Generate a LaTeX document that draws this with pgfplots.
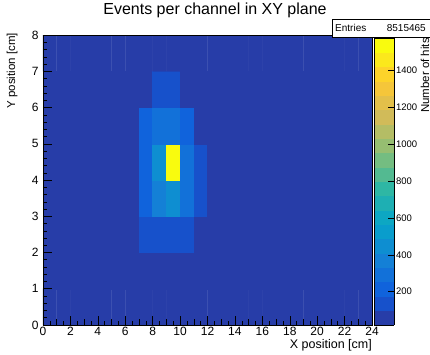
\documentclass[border=0pt]{standalone}
\usepackage{fontspec}
\setmainfont{Liberation Sans}
\usepackage{pgfplots}
\pgfplotsset{compat=1.18}
\pgfplotsset{colormap={bird20}{
rgb255(0cm)=(39,61,168) rgb255(1cm)=(23,81,203) rgb255(2cm)=(16,99,220) rgb255(3cm)=(18,113,217)
rgb255(4cm)=(20,128,214) rgb255(5cm)=(14,142,209) rgb255(6cm)=(9,157,204) rgb255(7cm)=(13,167,195)
rgb255(8cm)=(30,175,179) rgb255(9cm)=(46,183,164) rgb255(10cm)=(83,186,145) rgb255(11cm)=(116,189,129)
rgb255(12cm)=(150,190,113) rgb255(13cm)=(180,189,101) rgb255(14cm)=(209,187,89) rgb255(15cm)=(227,192,74)
rgb255(16cm)=(245,198,58) rgb255(17cm)=(253,211,42) rgb255(18cm)=(251,232,28) rgb255(19cm)=(249,251,14)
rgb255(20cm)=(249,251,14)}}
\begin{document}
\begin{tikzpicture}
\begin{axis}[
  at={(0,0)}, anchor=south west,
  scale only axis, width=329pt, height=290pt,
  xmin=0, xmax=24, ymin=0, ymax=8,
  axis on top,
  tick pos=left, tick align=inside,
  xtick={0,2,...,24}, minor x tick num=3,
  extra x ticks={1,3,...,23}, extra x tick labels={}, extra x tick style={major tick length=6pt},
  ytick={0,1,...,8}, minor y tick num=4,
  major tick length=9pt, minor tick length=4pt,
  tick style={black, line width=0.5pt},
  axis line style={line width=0.6pt},
  ticklabel style={font=\fontsize{12}{14}\selectfont},
  /pgf/number format/assume math mode=true,
  /pgf/number format/1000 sep={},
  yticklabel style={xshift=-1pt},
  xticklabel style={yshift=1.5pt},
  colormap name=bird20, colormap access=piecewise constant,
  point meta min=19, point meta max=1576,
  colorbar,
  colorbar shift/.style={xshift=2pt},
  colorbar style={
    at={(parent axis.south east)}, anchor=south west,
    scale only axis, width=20pt, height=287pt,
    ytick={200,400,...,1400},
    yticklabel pos=right, ytick pos=right,
    tick align=inside, major tick length=6pt,
    tick style={black, line width=0.5pt},
    yticklabel style={font=\fontsize{9.5}{11}\selectfont, xshift=-1.5pt},
    /pgf/number format/assume math mode=true,
    /pgf/number format/1000 sep={},
    scaled y ticks=false,
  },
]
\addplot[matrix plot*, mesh/cols=24, point meta=explicit] table[row sep=\\, meta=c] {
x y c\\
0.5 0.5 40\\ 1.5 0.5 40\\ 2.5 0.5 40\\ 3.5 0.5 40\\ 4.5 0.5 40\\ 5.5 0.5 40\\ 6.5 0.5 40\\ 7.5 0.5 40\\ 8.5 0.5 40\\ 9.5 0.5 40\\ 10.5 0.5 40\\ 11.5 0.5 40\\ 12.5 0.5 40\\ 13.5 0.5 40\\ 14.5 0.5 40\\ 15.5 0.5 40\\ 16.5 0.5 40\\ 17.5 0.5 40\\ 18.5 0.5 40\\ 19.5 0.5 40\\ 20.5 0.5 40\\ 21.5 0.5 40\\ 22.5 0.5 40\\ 23.5 0.5 40\\
0.5 1.5 40\\ 1.5 1.5 40\\ 2.5 1.5 40\\ 3.5 1.5 40\\ 4.5 1.5 40\\ 5.5 1.5 40\\ 6.5 1.5 40\\ 7.5 1.5 40\\ 8.5 1.5 40\\ 9.5 1.5 40\\ 10.5 1.5 40\\ 11.5 1.5 40\\ 12.5 1.5 40\\ 13.5 1.5 40\\ 14.5 1.5 40\\ 15.5 1.5 40\\ 16.5 1.5 40\\ 17.5 1.5 40\\ 18.5 1.5 40\\ 19.5 1.5 40\\ 20.5 1.5 40\\ 21.5 1.5 40\\ 22.5 1.5 40\\ 23.5 1.5 40\\
0.5 2.5 40\\ 1.5 2.5 40\\ 2.5 2.5 40\\ 3.5 2.5 40\\ 4.5 2.5 40\\ 5.5 2.5 40\\ 6.5 2.5 40\\ 7.5 2.5 150\\ 8.5 2.5 150\\ 9.5 2.5 150\\ 10.5 2.5 150\\ 11.5 2.5 40\\ 12.5 2.5 40\\ 13.5 2.5 40\\ 14.5 2.5 40\\ 15.5 2.5 40\\ 16.5 2.5 40\\ 17.5 2.5 40\\ 18.5 2.5 40\\ 19.5 2.5 40\\ 20.5 2.5 40\\ 21.5 2.5 40\\ 22.5 2.5 40\\ 23.5 2.5 40\\
0.5 3.5 40\\ 1.5 3.5 40\\ 2.5 3.5 40\\ 3.5 3.5 40\\ 4.5 3.5 40\\ 5.5 3.5 40\\ 6.5 3.5 40\\ 7.5 3.5 200\\ 8.5 3.5 340\\ 9.5 3.5 450\\ 10.5 3.5 290\\ 11.5 3.5 150\\ 12.5 3.5 40\\ 13.5 3.5 40\\ 14.5 3.5 40\\ 15.5 3.5 40\\ 16.5 3.5 40\\ 17.5 3.5 40\\ 18.5 3.5 40\\ 19.5 3.5 40\\ 20.5 3.5 40\\ 21.5 3.5 40\\ 22.5 3.5 40\\ 23.5 3.5 40\\
0.5 4.5 40\\ 1.5 4.5 40\\ 2.5 4.5 40\\ 3.5 4.5 40\\ 4.5 4.5 40\\ 5.5 4.5 40\\ 6.5 4.5 40\\ 7.5 4.5 200\\ 8.5 4.5 470\\ 9.5 4.5 1576\\ 10.5 4.5 300\\ 11.5 4.5 150\\ 12.5 4.5 40\\ 13.5 4.5 40\\ 14.5 4.5 40\\ 15.5 4.5 40\\ 16.5 4.5 40\\ 17.5 4.5 40\\ 18.5 4.5 40\\ 19.5 4.5 40\\ 20.5 4.5 40\\ 21.5 4.5 40\\ 22.5 4.5 40\\ 23.5 4.5 40\\
0.5 5.5 40\\ 1.5 5.5 40\\ 2.5 5.5 40\\ 3.5 5.5 40\\ 4.5 5.5 40\\ 5.5 5.5 40\\ 6.5 5.5 40\\ 7.5 5.5 200\\ 8.5 5.5 270\\ 9.5 5.5 270\\ 10.5 5.5 200\\ 11.5 5.5 40\\ 12.5 5.5 40\\ 13.5 5.5 40\\ 14.5 5.5 40\\ 15.5 5.5 40\\ 16.5 5.5 40\\ 17.5 5.5 40\\ 18.5 5.5 40\\ 19.5 5.5 40\\ 20.5 5.5 40\\ 21.5 5.5 40\\ 22.5 5.5 40\\ 23.5 5.5 40\\
0.5 6.5 40\\ 1.5 6.5 40\\ 2.5 6.5 40\\ 3.5 6.5 40\\ 4.5 6.5 40\\ 5.5 6.5 40\\ 6.5 6.5 40\\ 7.5 6.5 40\\ 8.5 6.5 150\\ 9.5 6.5 150\\ 10.5 6.5 40\\ 11.5 6.5 40\\ 12.5 6.5 40\\ 13.5 6.5 40\\ 14.5 6.5 40\\ 15.5 6.5 40\\ 16.5 6.5 40\\ 17.5 6.5 40\\ 18.5 6.5 40\\ 19.5 6.5 40\\ 20.5 6.5 40\\ 21.5 6.5 40\\ 22.5 6.5 40\\ 23.5 6.5 40\\
0.5 7.5 40\\ 1.5 7.5 40\\ 2.5 7.5 40\\ 3.5 7.5 40\\ 4.5 7.5 40\\ 5.5 7.5 40\\ 6.5 7.5 40\\ 7.5 7.5 40\\ 8.5 7.5 40\\ 9.5 7.5 40\\ 10.5 7.5 40\\ 11.5 7.5 40\\ 12.5 7.5 40\\ 13.5 7.5 40\\ 14.5 7.5 40\\ 15.5 7.5 40\\ 16.5 7.5 40\\ 17.5 7.5 40\\ 18.5 7.5 40\\ 19.5 7.5 40\\ 20.5 7.5 40\\ 21.5 7.5 40\\ 22.5 7.5 40\\ 23.5 7.5 40\\
};
\end{axis}
\node[anchor=base, font=\fontsize{16}{19}\selectfont] at (172pt,310pt) {Events per channel in XY plane};
\node[anchor=base east, inner sep=0pt, font=\fontsize{12.5}{15}\selectfont] at (329pt,-24pt) {X position [cm]};
\node[rotate=90, anchor=base east, inner sep=0pt, font=\fontsize{11.5}{14}\selectfont] at (-28pt,292pt) {Y position [cm]};
\node[rotate=90, anchor=north east, inner sep=0pt, font=\fontsize{11.5}{14}\selectfont] at (377.5pt,287pt) {Number of hits};
\draw[fill=white, line width=0.5pt] (289pt,288pt) rectangle (395pt,306pt);
\node[anchor=base west, inner sep=0pt, font=\fontsize{10}{12}\selectfont] at (292pt,293.5pt) {Entries};
\node[anchor=base east, inner sep=0pt, font=\fontsize{10}{12}\selectfont] at (383pt,293.5pt) {8515465};
\pgfresetboundingbox
\path[use as bounding box] (-43pt,-30pt) rectangle (387pt,325pt);
\end{tikzpicture}
\end{document}
